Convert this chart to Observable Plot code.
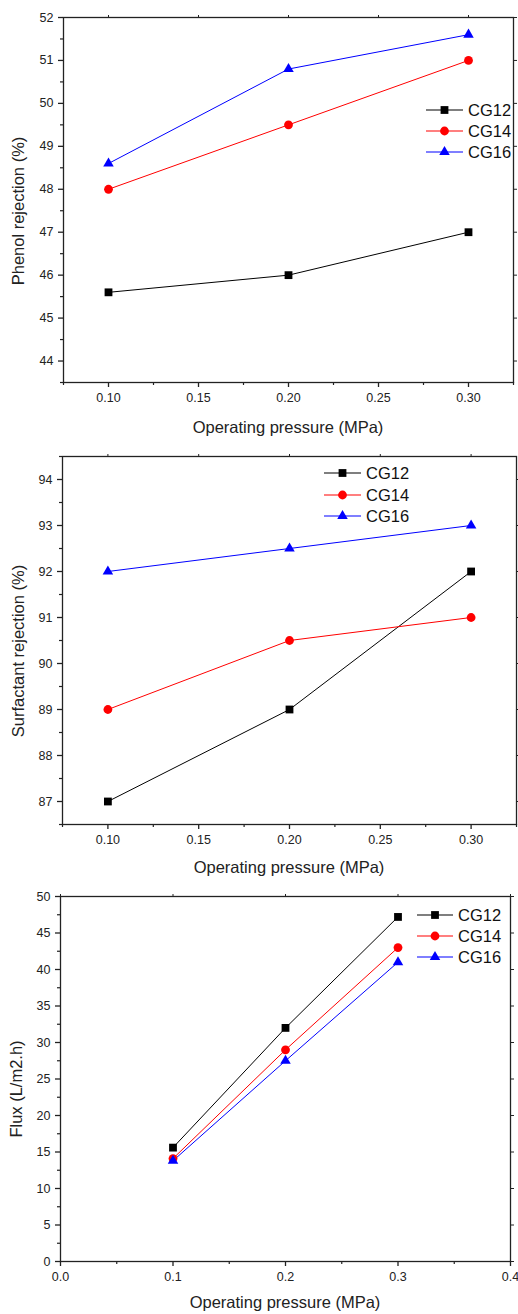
<!DOCTYPE html>
<html>
<head>
<meta charset="utf-8">
<script src="https://cdn.jsdelivr.net/npm/d3@7"></script>
<script src="https://cdn.jsdelivr.net/npm/@observablehq/plot@0.6"></script>
<style>
  html, body { margin: 0; padding: 0; background: #fff; }
  #wrap { position: relative; width: 518px; height: 1314px; background: #fff; overflow: hidden; }
  .panel { position: absolute; left: 0; }
</style>
</head>
<body>
<div id="wrap"></div>
<script>
// ---------- data ----------
const pressure = [0.1, 0.2, 0.3];
const seriesNames = ["CG12", "CG14", "CG16"];
const seriesColors = ["#000000", "#ff0000", "#0000ff"];
const seriesSymbols = ["square", "circle", "triangle"];

const phenolCG12 = [45.6, 46.0, 47.0];
const phenolCG14 = [48.0, 49.5, 51.0];
const phenolCG16 = [48.6, 50.8, 51.6];

const surfCG12 = [87.0, 89.0, 92.0];
const surfCG14 = [89.0, 90.5, 91.0];
const surfCG16 = [92.0, 92.5, 93.0];

const fluxCG12 = [15.6, 32.0, 47.2];
const fluxCG14 = [14.1, 29.0, 43.0];
const fluxCG16 = [13.8, 27.5, 41.0];

const phenolYTicks = [44, 45, 46, 47, 48, 49, 50, 51, 52];
const surfYTicks = [87, 88, 89, 90, 91, 92, 93, 94];
const fluxYTicks = [0, 5, 10, 15, 20, 25, 30, 35, 40, 45, 50];
const rejXTicks = [0.10, 0.15, 0.20, 0.25, 0.30];
const fluxXTicks = [0.0, 0.1, 0.2, 0.3, 0.4];

const xTitle = "Operating pressure (MPa)";

function toLong(a, b, c) {
  const out = [];
  [a, b, c].forEach((vals, i) => vals.forEach((v, j) => out.push({x: pressure[j], y: v, s: seriesNames[i]})));
  return out;
}

const FONT = "'Liberation Sans', Arial, Helvetica, sans-serif";
const INK = "#222";

function panel(cfg) {
  const data = toLong(...cfg.values);
  const xStep = cfg.xTicks[1] - cfg.xTicks[0];
  const yStep = cfg.yTicks[1] - cfg.yTicks[0];
  const xMinor = d3.range(cfg.xDomain[0], cfg.xDomain[1] + xStep / 4, xStep / 2).map(v => +v.toFixed(4))
    .filter(v => !cfg.xTicks.some(t => Math.abs(t - v) < 1e-6));
  const yMinor = d3.range(cfg.yDomain[0], cfg.yDomain[1] + yStep / 4, yStep / 2).map(v => +v.toFixed(4))
    .filter(v => !cfg.yTicks.some(t => Math.abs(t - v) < 1e-6));
  const blank = () => "";
  const svg = Plot.plot({
    width: 518,
    height: cfg.height,
    marginTop: cfg.m[0], marginRight: cfg.m[1], marginBottom: cfg.m[2], marginLeft: cfg.m[3],
    style: {fontFamily: FONT, fontSize: "12.5px", color: INK, background: "white"},
    x: {domain: cfg.xDomain},
    y: {domain: cfg.yDomain},
    color: {domain: seriesNames, range: seriesColors},
    symbol: {domain: seriesNames, range: seriesSymbols},
    marks: [
      Plot.axisX({ticks: cfg.xTicks, tickSize: 5, tickPadding: 6, tickFormat: d3.format(cfg.xFmt), label: null, strokeWidth: 1.3}),
      Plot.axisX({ticks: xMinor, tickSize: 3, tickFormat: blank, label: null, strokeWidth: 1.2}),
      Plot.axisX({anchor: "top", ticks: cfg.xTicks, tickSize: 3, tickFormat: blank, label: null, strokeWidth: 1}),
      Plot.axisY({ticks: cfg.yTicks, tickSize: 5, tickPadding: 5, tickFormat: d3.format("d"), label: null, strokeWidth: 1.3}),
      Plot.axisY({ticks: yMinor, tickSize: 3, tickFormat: blank, label: null, strokeWidth: 1.2}),
      Plot.axisY({anchor: "right", ticks: cfg.yTicks, tickSize: 3, tickFormat: blank, label: null, strokeWidth: 1}),
      Plot.frame({stroke: INK, strokeWidth: 1.3}),
      Plot.line(data, {x: "x", y: "y", z: "s", stroke: "s", strokeWidth: 1}),
      Plot.dot(data.filter(d => d.s === "CG12"), {x: "x", y: "y", symbol: "s", fill: "s", r: 4.4}),
      Plot.dot(data.filter(d => d.s === "CG14"), {x: "x", y: "y", symbol: "s", fill: "s", r: 4.4}),
      Plot.dot(data.filter(d => d.s === "CG16"), {x: "x", y: "y", symbol: "s", fill: "s", r: 3.9})
    ]
  });
  const s = d3.select(svg);
  // axis titles
  s.append("text")
    .attr("x", cfg.xTitle[0]).attr("y", cfg.xTitle[1])
    .attr("text-anchor", "middle")
    .style("font-family", FONT).style("font-size", "16.5px").attr("fill", INK)
    .text(xTitle);
  s.append("text")
    .attr("transform", `translate(${cfg.yTitle[0]},${cfg.yTitle[1]}) rotate(-90)`)
    .attr("text-anchor", "middle")
    .style("font-family", FONT).style("font-size", "16.5px").attr("fill", INK)
    .text(cfg.yLabel);
  // legend
  const L = cfg.legend;
  const sizes = [4.4, 4.4, 3.9];
  seriesNames.forEach((name, i) => {
    const y = L.rows[i];
    const g = s.append("g");
    g.append("line").attr("x1", L.x0).attr("x2", L.x1).attr("y1", y).attr("y2", y)
      .attr("stroke", seriesColors[i]).attr("stroke-width", 1.2);
    const sym = [d3.symbolSquare, d3.symbolCircle, d3.symbolTriangle][i];
    g.append("path").attr("d", d3.symbol(sym, sizes[i] * sizes[i] * Math.PI)())
      .attr("transform", `translate(${(L.x0 + L.x1) / 2},${y})`).attr("fill", seriesColors[i]);
    g.append("text").attr("x", L.tx).attr("y", y + 6)
      .attr("text-anchor", "start")
      .style("font-family", FONT).style("font-size", "16.5px").attr("fill", "#111")
      .text(name);
  });
  svg.classList.add("panel");
  svg.style.top = cfg.top + "px";
  return svg;
}

const wrap = document.getElementById("wrap");

wrap.appendChild(panel({
  top: 0, height: 440, m: [17, 5, 58, 63],
  values: [phenolCG12, phenolCG14, phenolCG16],
  xDomain: [0.075, 0.325], yDomain: [43.5, 52],
  xTicks: rejXTicks, yTicks: phenolYTicks, xFmt: ".2f",
  yLabel: "Phenol rejection (%)",
  xTitle: [288, 433], yTitle: [24, 211],
  legend: {x0: 426, x1: 463, tx: 468, rows: [110, 131, 152]}
}));

wrap.appendChild(panel({
  top: 440, height: 440, m: [16, 2, 56, 62],
  values: [surfCG12, surfCG14, surfCG16],
  xDomain: [0.075, 0.325], yDomain: [86.5, 94.5],
  xTicks: rejXTicks, yTicks: surfYTicks, xFmt: ".2f",
  yLabel: "Surfactant rejection (%)",
  xTitle: [289, 433], yTitle: [24, 211],
  legend: {x0: 324, x1: 361, tx: 366, rows: [33, 55, 76]}
}));

wrap.appendChild(panel({
  top: 880, height: 434, m: [16, 8, 53, 60],
  values: [fluxCG12, fluxCG14, fluxCG16],
  xDomain: [0, 0.4], yDomain: [0, 50],
  xTicks: fluxXTicks, yTicks: fluxYTicks, xFmt: ".1f",
  yLabel: "Flux (L/m2.h)",
  xTitle: [285, 428], yTitle: [22, 209],
  legend: {x0: 417, x1: 453, tx: 458, rows: [35, 56, 77]}
}));
</script>
</body>
</html>
